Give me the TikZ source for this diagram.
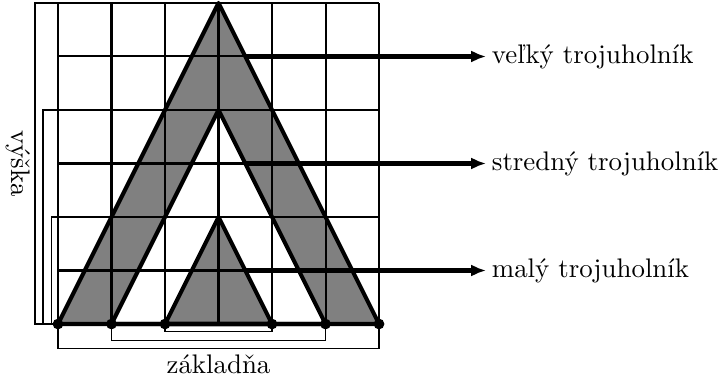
\documentclass[tikz,border=0pt]{standalone}
\usetikzlibrary{arrows.meta}
\tikzset{
	mriezka/.style={line width=0.75pt, step=0.7cm},
	obrys/.style={line width=1.5pt, line join=round},
	zatvorka/.style={line width=0.4pt},
	sipka/.style={line width=1.5pt, -{Latex[length=5.5pt,width=4.5pt]}},
	popis/.style={anchor=west, inner sep=2pt},
}
\def\vrchol(#1){\fill (#1) circle (2pt);}

\begin{document}
\begin{tikzpicture}[x=0.7cm, y=0.7cm]
		%%%%% START %%%%%
		\useasboundingbox (-1.084, -1.047) rectangle (12.392, 6.056);
		
		\coordinate (A1) at (0, 0); \coordinate (B1) at (6, 0); \coordinate (C1) at (3, 6);
		\coordinate (A2) at (1, 0); \coordinate (B2) at (5, 0); \coordinate (C2) at (3, 4);
		\coordinate (A3) at (2, 0); \coordinate (B3) at (4, 0); \coordinate (C3) at (3, 2);
		
		\fill[black!50] (A1) -- (C1) -- (B1) -- cycle;
		\fill[white] (A2) -- (C2) -- (B2) -- cycle;
		\fill[black!50] (A3) -- (C3) -- (B3) -- cycle;
		
		\draw[mriezka] (0, 0) grid (6, 6);
		
		\draw[obrys] (A1) -- (C1) -- (B1) -- cycle;
		\draw[obrys] (A2) -- (C2) -- (B2) -- cycle;
		\draw[obrys] (A3) -- (C3) -- (B3) -- cycle;
		\vrchol(A1) \vrchol(B1)
		\vrchol(A2) \vrchol(B2)
		\vrchol(A3) \vrchol(B3)
		
		% vyska
		\draw[zatvorka] (0, 6) -- (-0.43, 6) -- (-0.43, 0) -- (0, 0);
		\draw[zatvorka] (0, 4) -- (-0.28, 4) -- (-0.28, 0) -- (0, 0);
		\draw[zatvorka] (0, 2) -- (-0.13, 2) -- (-0.13, 0) -- (0, 0);
		\node[rotate=-90] (vyska) at (-0.75, 3) {výška};
		
		% zakladna
		\draw[zatvorka] (A1) -- (0, -0.45) -- (6, -0.45) -- (B1);
		\draw[zatvorka] (A2) -- (1, -0.3) -- (5, -0.3) -- (B2);
		\draw[zatvorka] (A3) -- (2, -0.14) -- (4, -0.14) -- (B3);
		\node (zakladna) at (3, -0.75) {základňa};
		
		\coordinate (P1) at (3.5, 5);
		\coordinate (P2) at (3.5, 3);
		\coordinate (P3) at (3.5, 1);
		\node[popis] (velky) at (8, 5) {veľký trojuholník};
		\node[popis] (stredny) at (8, 3) {stredný trojuholník};
		\node[popis] (maly) at (8, 1) {malý trojuholník};
		\draw[sipka] (P1) -- (velky.west);
		\draw[sipka] (P2) -- (stredny.west);
		\draw[sipka] (P3) -- (maly.west);
		
		%%%%% END %%%%%
\end{tikzpicture}
\end{document}
